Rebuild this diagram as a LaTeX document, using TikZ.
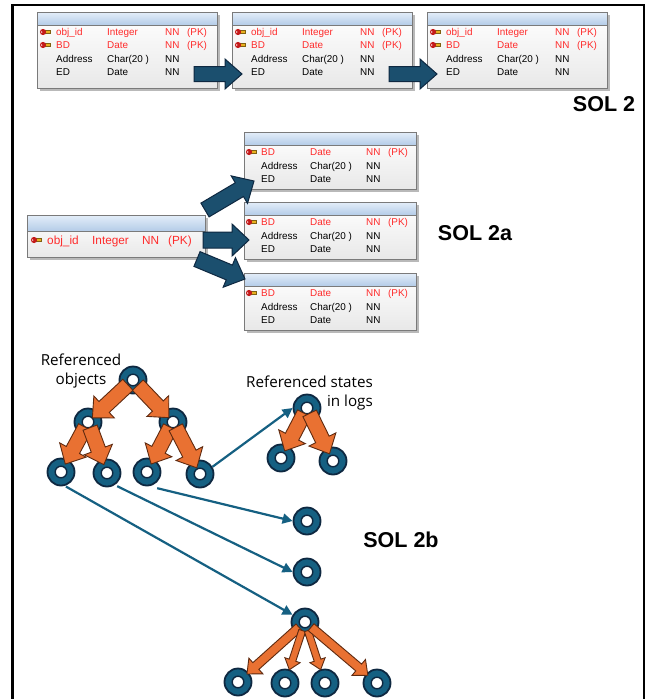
\documentclass[tikz,border=0pt]{standalone}
\usepackage{fontspec}
\setmainfont{Liberation Sans}
\newfontfamily\notefont{Open Sans}
\usetikzlibrary{calc,arrows.meta,shadows}

\definecolor{ringblue}{HTML}{156082}
\definecolor{navy}{HTML}{0E2841}
\definecolor{flowblue}{HTML}{1B4F6E}
\definecolor{orangefill}{HTML}{E97132}
\definecolor{orangeline}{HTML}{5E2A10}
\definecolor{keyred}{HTML}{FF2B2B}
\definecolor{keydark}{HTML}{C41A1A}
\definecolor{keygold}{HTML}{E8B020}
\definecolor{headtop}{HTML}{E4EEF9}
\definecolor{headbot}{HTML}{B4CCE8}
\definecolor{tborder}{HTML}{7A7A7A}

\tikzset{
  erbox/.style={draw=tborder, line width=0.8pt, anchor=north west, inner sep=0pt,
    top color=white, bottom color=black!9,
    drop shadow={shadow xshift=2.5pt, shadow yshift=-2.5pt, fill=black!50, opacity=0.55}},
  rowtext/.style={anchor=base west, inner sep=0pt, font=\fontsize{9.9}{11}\selectfont},
  bigrowtext/.style={anchor=base west, inner sep=0pt, font=\fontsize{11.8}{13}\selectfont},
  pkrow/.style={text=keyred},
  ring/.style={circle, minimum size=27pt, inner sep=0pt, fill=ringblue, draw=navy, line width=1.8pt,
    path picture={\filldraw[fill=white, draw=navy, line width=1.4pt] (path picture bounding box.center) circle (5.8pt);}},
  flowarrow/.style={fill=flowblue, draw=navy, line width=1pt, line join=miter},
  orangearrow/.style={fill=orangefill, draw=orangeline, line width=0.9pt, line join=miter},
  link/.style={draw=ringblue, line width=2.2pt, -{Triangle[length=10pt,width=10pt]}},
  sollabel/.style={inner sep=0pt, font=\bfseries\fontsize{21.5}{24}\selectfont},
  note/.style={inner sep=0pt, font=\notefont\fontsize{15.2}{19}\selectfont},
  keypic/.pic={
    \filldraw[fill=keygold, draw=keygold!55!black, line width=0.3pt] (1,-1.5) rectangle (7.5,1.5);
    \fill[keydark] (0,0) circle (3.1);
    \fill[white!70!keydark] (-1.4,0) circle (0.9);
  }
}

% table with a shaded header band
\newcommand\ertable[6]{% name, x, y, width, height, header height
  \node[erbox, minimum width=#4pt, minimum height=#5pt] (#1) at (#2,#3) {};
  \shade[top color=headtop, bottom color=headbot] (#1.north west) rectangle ([yshift=-#6pt]#1.north east);
  \draw[tborder, line width=0.8pt] ([yshift=-#6pt]#1.north west) -- ([yshift=-#6pt]#1.north east);
  \draw[tborder, line width=0.8pt] (#1.north west) rectangle (#1.south east);
}
% one row of columns
\newcommand\cols[7]{\makebox[#1pt][l]{#4}\makebox[#2pt][l]{#5}\makebox[#3pt][l]{#6}#7}

% block arrow from #2 to #3: half shaft #4, half head #5, head length #6
\newcommand\blockarrow[6]{%
  \coordinate (bac) at ($(#3)!#6!(#2)$);
  \draw[#1] ($(#2)!#4!90:(#3)$) -- ($(bac)!#4!90:(#3)$) -- ($(bac)!#5!90:(#3)$) -- (#3)
    -- ($(bac)!#5!-90:(#3)$) -- ($(bac)!#4!-90:(#3)$) -- ($(#2)!#4!-90:(#3)$) -- cycle;
}
% orange tree arrow between two ring nodes
\newcommand\treearrow[7]{% from, to, start offset, end offset, half shaft, half head, head length
  \coordinate (tas) at ($(#1)!#3!(#2)$);
  \coordinate (tae) at ($(#2)!#4!(#1)$);
  \blockarrow{orangearrow}{tas}{tae}{#5}{#6}{#7}
}

\begin{document}
\begin{tikzpicture}[x=1pt, y=-1pt]
\useasboundingbox (0,0) rectangle (650,699);
\fill[white] (0,0) rectangle (650,699);

% frame
\draw[line width=2.3pt] (12.5,699) -- (12.5,5) -- (644,5) -- (644,699);

% ---------- SOL 2 : three full tables ----------
\foreach \t/\dx in {tA/0, tB/195, tC/390}{
  \ertable{\t}{37+\dx}{12}{180}{76}{13}
  \pic at (43+\dx,32) {keypic};
  \pic at (43+\dx,45) {keypic};
  \node[rowtext, pkrow] (\t-r1) at (56+\dx,35.5) {\cols{51}{58}{22}{obj\_id}{Integer}{NN}{(PK)}};
  \node[rowtext, pkrow] (\t-r2) at (56+\dx,48.8) {\cols{51}{58}{22}{BD}{Date}{NN}{(PK)}};
  \node[rowtext] (\t-r3) at (56+\dx,62.3) {\cols{51}{58}{22}{Address}{Char(20 )}{NN}{}};
  \node[rowtext] (\t-r4) at (56+\dx,75.6) {\cols{51}{58}{22}{ED}{Date}{NN}{}};
}
\coordinate (f1s) at (194,74);
\coordinate (f1e) at (242,74);
\coordinate (f2s) at (389,74);
\coordinate (f2e) at (437,74);
\blockarrow{flowarrow}{f1s}{f1e}{7.5pt}{15pt}{17pt}
\blockarrow{flowarrow}{f2s}{f2e}{7.5pt}{15pt}{17pt}
\node[sollabel] (sol2) at (604,104) {SOL 2};

% ---------- SOL 2a : key table and three state tables ----------
\ertable{kt}{27}{215}{178}{42}{16}
\pic at (34,240) {keypic};
\node[bigrowtext, pkrow] (kt-r1) at (47,244.2) {\cols{45}{50}{26}{obj\_id}{Integer}{NN}{(PK)}};

\foreach \t/\ty in {sA/132, sB/202, sC/273}{
  \ertable{\t}{244}{\ty}{172}{57}{13}
  \pic at (249,\ty+20) {keypic};
  \node[rowtext, pkrow] (\t-r1) at (261,\ty+23.5) {\cols{49}{56}{22}{BD}{Date}{NN}{(PK)}};
  \node[rowtext] (\t-r2) at (261,\ty+37.3) {\cols{49}{56}{22}{Address}{Char(20 )}{NN}{}};
  \node[rowtext] (\t-r3) at (261,\ty+50.5) {\cols{49}{56}{22}{ED}{Date}{NN}{}};
}
\coordinate (g1s) at (205,210);
\coordinate (g1e) at (254,181);
\coordinate (g2s) at (203,240);
\coordinate (g2e) at (249,240);
\coordinate (g3s) at (197,259);
\coordinate (g3e) at (245,279);
\blockarrow{flowarrow}{g1s}{g1e}{8pt}{16pt}{17pt}
\blockarrow{flowarrow}{g2s}{g2e}{8pt}{16pt}{17pt}
\blockarrow{flowarrow}{g3s}{g3e}{8pt}{16pt}{17pt}
\node[sollabel] (sol2a) at (475,233) {SOL 2a};

% ---------- SOL 2b : object tree and logged states ----------
\node[note, align=center] (refobj) at (81,371) {Referenced\\objects};
\node[note, align=right, anchor=east] (refstate) at (373,393) {Referenced states\\in logs};

% object tree
\node[ring] (R)  at (133,380) {};
\node[ring] (A)  at (88,422) {};
\node[ring] (B)  at (173,422) {};
\node[ring] (c1) at (61,472) {};
\node[ring] (c2) at (107,473) {};
\node[ring] (c3) at (147,472) {};
\node[ring] (c4) at (200,474) {};
% logged states
\node[ring] (S)  at (307,408) {};
\node[ring] (s1) at (281,458) {};
\node[ring] (s2) at (333,461) {};
\node[ring] (Q1) at (307,521) {};
\node[ring] (Q2) at (307,572) {};
\node[ring] (T)  at (305,622) {};
\node[ring] (t1) at (238,682) {};
\node[ring] (t2) at (285,683) {};
\node[ring] (t3) at (325,683) {};
\node[ring] (t4) at (377,683) {};

\treearrow{R}{A}{7pt}{6pt}{7.5pt}{15pt}{16pt}
\treearrow{R}{B}{7pt}{6pt}{7.5pt}{15pt}{16pt}
\treearrow{A}{c1}{6pt}{9pt}{7.5pt}{15pt}{16pt}
\treearrow{A}{c2}{6pt}{9pt}{7.5pt}{15pt}{16pt}
\treearrow{B}{c3}{6pt}{9pt}{7.5pt}{15pt}{16pt}
\treearrow{B}{c4}{6pt}{7pt}{7.5pt}{15pt}{16pt}
\treearrow{S}{s1}{6pt}{8pt}{7.5pt}{15pt}{16pt}
\treearrow{S}{s2}{6pt}{8pt}{7.5pt}{15pt}{16pt}
\treearrow{T}{t1}{8pt}{12pt}{4.5pt}{10.5pt}{12pt}
\treearrow{T}{t2}{9pt}{14pt}{3.5pt}{8pt}{10pt}
\treearrow{T}{t3}{9pt}{14pt}{3.5pt}{8pt}{10pt}
\treearrow{T}{t4}{8pt}{12pt}{4.5pt}{10.5pt}{12pt}

\draw[link] (c4.30) -- (S.west);
\draw[link] ([yshift=-6pt]c3.south east) -- (Q1.west);
\draw[link] ([yshift=-3pt]c2.south east) -- (Q2.west);
\draw[link] ([yshift=-1pt]c1.-70) -- (T.150);

\node[sollabel] (sol2b) at (401,540) {SOL 2b};
\end{tikzpicture}
\end{document}
